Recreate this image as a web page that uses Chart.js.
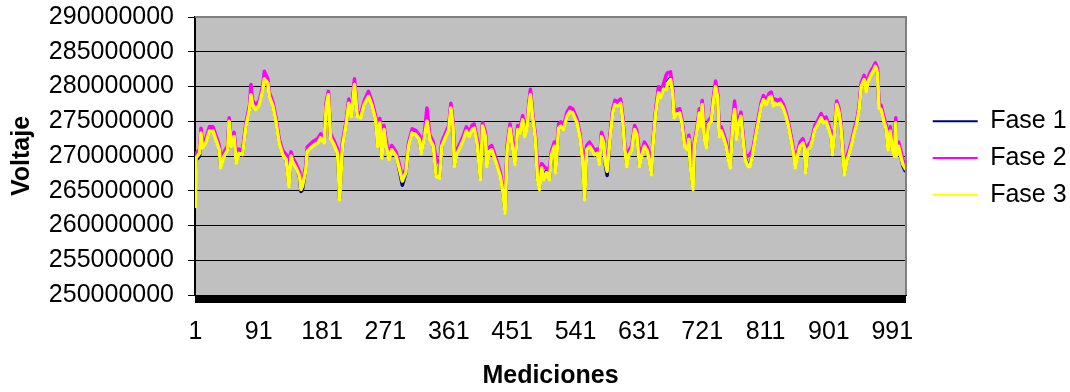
<!DOCTYPE html>
<html>
<head>
<meta charset="utf-8">
<script src="https://cdn.jsdelivr.net/npm/chart.js@4.4.1/dist/chart.umd.min.js"></script>
<style>
  body { margin: 0; background: #fff; }
  #wrap { width: 1070px; height: 392px; }
</style>
</head>
<body>
<div id="wrap"><canvas id="voltChart" width="1070" height="392"></canvas></div>
<script>
// measurement number of each sampled point
const mediciones = [
  1,2,7,9,11,16,21,26,30,35,
  37,42,47,49,52,56,59,63,68,73,
  78,80,82,87,92,97,99,104,106,111,
  115,120,125,130,134,137,139,144,149,151,
  153,158,160,165,170,175,179,184,187,190,
  193,198,203,206,210,215,219,223,227,231,
  236,241,247,252,257,260,263,266,269,271,
  276,280,286,290,295,300,304,309,314,319,
  322,326,330,334,339,343,348,351,356,361,
  364,367,369,373,377,382,386,390,394,397,
  401,406,409,413,415,419,422,425,429,434,
  438,441,444,448,452,455,459,462,466,469,
  472,475,477,480,484,487,490,493,496,500,
  504,507,511,513,517,520,524,529,533,537,
  543,547,551,554,557,561,564,568,572,575,
  578,581,583,586,590,594,597,601,605,608,
  611,614,617,621,625,628,632,635,639,643,
  647,649,651,655,659,662,666,670,672,676,
  679,681,684,689,692,696,700,702,704,708,
  710,714,717,719,721,724,727,730,734,737,
  740,743,745,748,752,755,758,761,764,767,
  770,772,776,779,782,786,789,793,797,801,
  805,808,812,816,819,822,824,828,832,836,
  840,843,847,851,853,857,860,864,866,868,
  871,875,878,881,885,890,893,897,901,904,
  906,909,912,915,918,921,923,927,930,934,
  937,941,944,947,951,954,957,961,964,967,
  970,972,975,979,982,985,988,991,994,996,
  997,1000,1003,1006,1009,1010
];

// voltages in millions
const fase1 = [
  268.0,269.4,270.0,273.4,271.4,272.1,273.8,273.8,272.6,271.1,
  268.5,270.2,271.1,275.1,271.6,273.0,269.2,270.6,270.4,274.5,
  276.9,279.0,277.6,276.9,277.6,279.8,281.3,280.7,278.8,277.4,
  275.4,272.1,270.4,269.7,265.8,270.2,269.4,268.5,267.0,264.9,
  265.1,268.2,270.9,271.4,271.8,272.1,272.8,272.1,277.4,279.0,
  272.8,271.8,270.6,263.9,271.6,274.5,277.8,275.9,280.5,275.9,
  275.7,277.6,278.8,277.4,275.4,271.6,275.0,269.9,274.0,272.1,
  269.7,271.1,270.2,268.4,265.8,267.5,271.6,273.5,273.3,272.6,
  270.6,272.6,275.2,272.6,271.6,267.3,267.0,271.6,272.8,274.0,
  277.1,274.5,268.7,270.6,271.4,272.6,273.8,273.0,274.0,274.2,
  272.1,266.8,274.5,273.0,268.7,270.9,271.1,270.2,269.0,267.3,
  264.9,262.0,271.1,274.2,271.1,269.0,274.0,273.5,275.4,273.0,
  274.0,277.4,279.0,275.9,272.6,266.8,265.4,268.5,266.8,267.8,
  266.8,270.4,271.6,267.8,274.2,274.5,274.0,275.9,276.6,276.4,
  275.0,273.0,269.7,263.9,271.1,271.6,271.1,270.4,270.6,269.0,
  273.0,272.1,269.0,267.2,272.6,276.4,277.6,277.4,277.8,275.4,
  271.1,268.7,270.4,271.1,274.0,273.3,268.7,270.2,271.6,270.9,
  268.7,267.5,271.6,276.4,279.3,278.6,279.8,279.8,280.7,281.2,
  279.3,275.7,276.2,276.4,275.0,271.6,271.1,272.6,268.7,265.4,
  271.6,274.0,276.4,274.5,277.6,272.6,271.4,274.7,275.2,278.1,
  280.2,278.6,273.0,273.8,272.6,271.6,269.7,268.5,274.0,276.9,
  272.6,274.5,275.9,272.6,269.7,268.7,268.7,270.6,273.0,275.2,
  277.4,278.3,277.6,278.6,278.8,277.4,277.8,277.6,277.8,277.1,
  275.9,274.7,272.6,270.4,268.5,270.4,271.6,272.1,271.4,267.8,
  271.1,271.6,272.6,274.0,274.7,275.7,275.0,275.2,274.0,272.8,
  270.4,273.5,277.6,276.6,274.5,270.4,267.5,269.7,270.6,272.1,
  273.5,275.0,276.9,280.2,281.2,279.5,281.0,281.9,282.4,283.1,
  282.2,277.1,276.9,275.2,274.2,271.1,273.8,271.1,270.2,275.0,
  270.2,271.6,270.0,268.6,267.9,267.8
];

const fase2 = [
  268.2,270.4,271.0,274.0,271.8,272.5,274.2,274.2,273.0,271.5,
  269.8,270.6,271.5,275.5,272.0,273.4,270.6,271.0,270.8,274.9,
  277.3,280.3,278.0,277.3,278.0,280.3,282.2,281.1,279.2,277.8,
  275.8,272.5,270.8,270.2,269.5,270.6,269.8,268.9,267.7,266.5,
  266.2,268.6,271.3,271.8,272.2,272.5,273.2,272.5,277.8,279.3,
  273.2,272.2,271.0,268.5,272.0,274.9,278.2,276.3,281.1,276.3,
  276.1,278.0,279.3,277.8,275.8,274.0,275.4,273.0,274.4,272.8,
  270.1,271.5,270.6,269.1,266.9,268.2,272.0,273.9,273.7,273.0,
  272.0,273.0,276.9,273.0,272.0,269.5,269.0,272.0,273.2,274.4,
  277.6,274.9,270.6,271.0,271.8,273.0,274.2,273.4,274.4,274.6,
  272.5,269.5,274.8,273.4,270.5,271.3,271.5,270.6,269.4,267.7,
  265.3,262.9,271.5,274.6,271.5,270.5,274.4,273.9,275.8,273.4,
  274.4,277.8,279.6,276.3,273.0,268.6,267.6,268.9,268.5,268.2,
  268.0,270.8,272.0,269.8,274.6,274.9,274.4,276.3,277.0,276.8,
  275.4,273.4,270.1,269.5,271.5,272.0,271.5,270.8,271.0,269.6,
  273.4,272.5,269.8,269.0,273.0,276.8,278.0,277.8,278.2,275.8,
  271.5,270.0,270.8,271.5,274.4,273.7,270.5,270.6,272.0,271.3,
  269.8,269.0,272.0,276.8,280.0,279.0,280.4,281.7,282.0,282.1,
  279.7,276.1,276.6,276.8,275.4,272.0,271.5,273.0,271.5,269.0,
  272.0,274.4,276.8,274.9,278.0,273.8,273.0,275.1,275.6,278.5,
  280.8,279.0,274.0,274.2,273.0,272.0,270.1,270.5,274.4,277.9,
  274.5,274.9,276.3,273.0,270.1,270.0,270.3,271.0,273.4,275.6,
  277.8,278.7,278.0,279.0,279.2,277.8,278.2,278.0,278.2,277.5,
  276.3,275.1,273.0,270.8,270.0,270.8,272.0,272.5,271.8,270.5,
  271.5,272.0,273.0,274.4,275.1,276.1,275.4,275.6,274.4,273.2,
  272.8,273.9,277.9,277.0,274.9,270.8,269.0,270.1,271.0,272.5,
  273.9,275.4,277.3,280.6,281.6,279.9,281.4,282.3,282.8,283.4,
  282.6,277.5,277.3,275.6,274.6,272.3,274.2,272.0,271.3,275.5,
  271.5,272.0,270.8,269.5,268.6,268.2
];

const fase3 = [
  262.5,269.7,270.4,273.3,271.2,271.9,273.6,273.6,272.4,270.9,
  268.3,270.0,270.9,275.0,271.4,272.8,269.0,270.4,270.2,274.3,
  276.7,278.8,277.4,276.7,277.4,279.6,281.1,280.5,278.6,277.2,
  275.2,271.9,270.2,269.5,265.6,270.0,269.2,268.3,267.1,265.2,
  265.6,268.0,270.7,271.2,271.6,271.9,272.6,271.9,277.2,278.8,
  272.6,271.6,270.4,263.7,271.4,274.3,277.6,275.7,280.3,275.7,
  275.5,277.4,278.6,277.2,275.2,271.4,274.8,269.7,273.8,271.9,
  269.5,270.9,270.0,268.5,266.4,267.6,271.4,273.3,273.1,272.4,
  270.4,272.4,275.0,272.4,271.4,267.1,266.8,271.4,272.6,273.8,
  276.9,274.3,268.5,270.4,271.2,272.4,273.6,272.8,273.8,274.0,
  271.9,266.6,274.3,272.8,268.5,270.7,270.9,270.0,268.8,267.1,
  264.7,261.8,270.9,274.0,270.9,268.8,273.8,273.3,275.2,272.8,
  273.8,277.2,278.8,275.7,272.4,266.6,265.2,268.3,266.6,267.6,
  266.6,270.2,271.4,267.6,274.0,274.3,273.8,275.7,276.4,276.2,
  274.8,272.8,269.5,263.7,270.9,271.4,270.9,270.2,270.4,268.8,
  272.8,271.9,269.2,267.8,272.4,276.2,277.4,277.2,277.6,275.2,
  270.9,268.5,270.2,270.9,273.8,273.1,268.5,270.0,271.4,270.7,
  268.5,267.3,271.4,276.2,279.1,278.4,279.6,279.6,280.5,281.0,
  279.1,275.5,276.0,276.2,274.8,271.4,270.9,272.4,268.5,265.2,
  271.4,273.8,276.2,274.3,277.4,272.4,271.2,274.5,275.0,277.9,
  280.0,278.4,272.8,273.6,272.4,271.4,269.5,268.3,273.8,276.7,
  272.4,274.3,275.7,272.4,269.5,268.5,268.5,270.4,272.8,275.0,
  277.2,278.1,277.4,278.4,278.6,277.2,277.6,277.4,277.6,276.9,
  275.7,274.5,272.4,270.2,268.3,270.2,271.4,271.9,271.2,267.6,
  270.9,271.4,272.4,273.8,274.5,275.5,274.8,275.0,273.8,272.6,
  270.2,273.3,277.4,276.4,274.3,270.2,267.3,269.5,270.4,271.9,
  273.3,274.8,276.7,280.0,281.0,279.3,280.8,281.7,282.2,282.9,
  282.0,276.9,276.7,275.0,274.0,270.9,273.6,270.9,270.0,274.8,
  270.0,271.4,270.0,268.8,268.3,268.0
];

const totalMediciones = 1010;
const xTickLabels = ['1', '91', '181', '271', '361', '451', '541', '631', '721', '811', '901', '991'];
const yTickLabels = ['250000000', '255000000', '260000000', '265000000', '270000000',
  '275000000', '280000000', '285000000', '290000000'];

[fase1, fase2, fase3].forEach(arr => {
  if (arr.length !== mediciones.length) throw new Error('length mismatch ' + arr.length);
});

const toPoints = arr => mediciones.map((m, i) => ({ x: m, y: arr[i] * 1e6 }));

Chart.defaults.font.family = "'Liberation Sans', Arial, sans-serif";
Chart.defaults.font.size = 25;
Chart.defaults.color = '#000';

// grey plot area, grey frame on top and right, legend sizing
const plotFrame = {
  id: 'plotFrame',
  beforeLayout(chart) {
    const lg = chart.legend;
    if (lg && !lg._patched) {
      const fit = lg.fit.bind(lg);
      lg.fit = () => { fit(); lg.width = 164; };
      lg._patched = true;
    }
  },
  beforeDraw(chart) {
    const { ctx, chartArea: a } = chart;
    ctx.save();
    ctx.fillStyle = '#c0c0c0';
    ctx.fillRect(a.left, a.top, a.right - a.left, a.bottom - a.top);
    ctx.restore();
    if (chart.legend) {
      chart.legend.left = a.right + 15;
      chart.legend.top = a.top + 2;
      chart.legend.bottom = a.bottom + 2;
    }
  },
  afterDatasetsDraw(chart) {
    const { ctx, chartArea: a } = chart;
    ctx.save();
    ctx.strokeStyle = '#808080';
    ctx.lineWidth = 2;
    ctx.beginPath();
    ctx.moveTo(a.left, a.top);
    ctx.lineTo(a.right, a.top);
    ctx.lineTo(a.right, a.bottom);
    ctx.stroke();
    ctx.restore();
  }
};

new Chart(document.getElementById('voltChart'), {
  type: 'line',
  data: {
    datasets: [
      { label: 'Fase 1', data: toPoints(fase1), borderColor: '#000080', backgroundColor: '#000080', borderWidth: 3.5, order: 3 },
      { label: 'Fase 2', data: toPoints(fase2), borderColor: '#ff00ff', backgroundColor: '#ff00ff', borderWidth: 3.5, order: 2 },
      { label: 'Fase 3', data: toPoints(fase3), borderColor: '#ffff00', backgroundColor: '#ffff00', borderWidth: 3.5, order: 1 }
    ]
  },
  options: {
    responsive: false,
    animation: false,
    devicePixelRatio: 1,
    layout: { padding: { top: 17, left: 0, right: 0, bottom: 0 } },
    elements: {
      line: { tension: 0, borderJoinStyle: 'round' },
      point: { radius: 0, hoverRadius: 0 }
    },
    plugins: {
      tooltip: { enabled: false },
      legend: {
        position: 'right',
        fullSize: false,
        labels: {
          usePointStyle: true,
          pointStyle: 'line',
          pointStyleWidth: 45,
          padding: 11.7,
          color: '#000',
          font: { size: 25 },
          generateLabels: chart => Chart.defaults.plugins.legend.labels.generateLabels(chart)
            .map(item => Object.assign(item, { lineWidth: 2 })),
          sort: (a, b) => a.datasetIndex - b.datasetIndex
        }
      }
    },
    scales: {
      x: {
        type: 'linear',
        min: 0.5,
        max: totalMediciones + 0.5,
        afterBuildTicks: scale => {
          scale.ticks = Array.from({ length: totalMediciones }, (_, k) => ({ value: k + 1 }));
        },
        afterFit: scale => { scale.height = 97; },
        ticks: {
          autoSkip: false,
          maxRotation: 0,
          minRotation: 0,
          padding: 14,
          font: { size: 25 },
          callback: v => (xTickLabels.includes(String(v)) ? String(v) : '')
        },
        grid: { drawOnChartArea: false, drawTicks: true, tickLength: 8, color: '#000', lineWidth: 1 },
        border: { display: true, color: '#000', width: 1 },
        title: { display: true, text: 'Mediciones', font: { size: 25, weight: 'bold' }, padding: { top: 0, bottom: 1 } }
      },
      y: {
        min: 250000000,
        max: 290000000,
        afterBuildTicks: scale => {
          scale.ticks = yTickLabels.map(t => ({ value: Number(t) }));
        },
        afterFit: scale => {
          scale.width = 195;
          scale.paddingTop = 0;
          scale.paddingBottom = 0;
        },
        ticks: {
          padding: 14,
          font: { size: 25 },
          callback: v => String(v)
        },
        grid: { color: '#000', lineWidth: 1, tickLength: 7 },
        border: { display: true, color: '#000', width: 2 },
        title: { display: true, text: 'Voltaje', font: { size: 25, weight: 'bold' }, padding: { top: 7, bottom: 0 } }
      }
    }
  },
  plugins: [plotFrame]
});
</script>
</body>
</html>
